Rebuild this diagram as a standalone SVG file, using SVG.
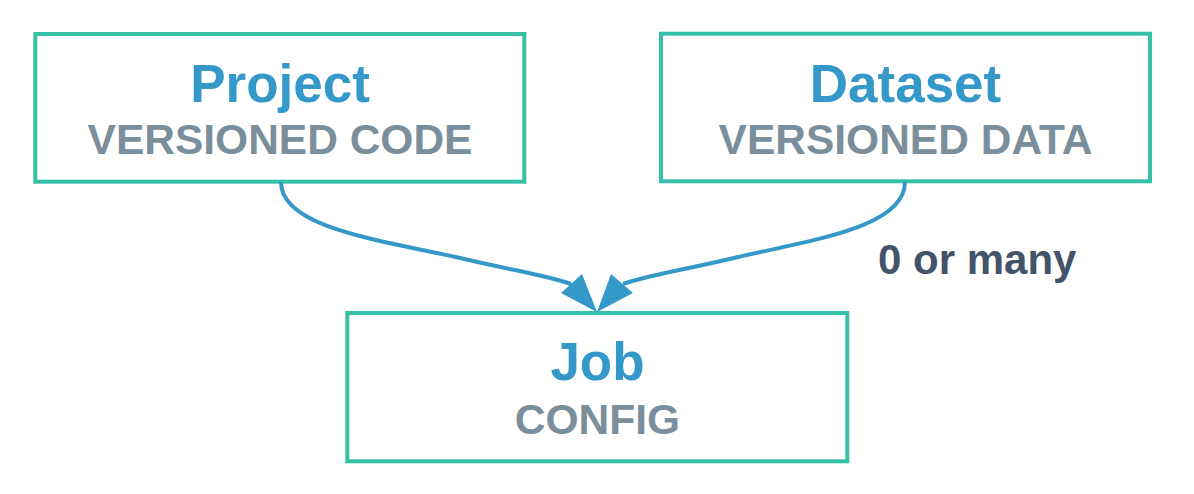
<svg xmlns="http://www.w3.org/2000/svg" width="1194" height="494" viewBox="0 0 1194 494">
<style>
.box{fill:#fff;stroke:#35c0a7;stroke-width:4}
.title{font-family:"Liberation Sans",Arial,sans-serif;font-weight:bold;font-size:53px;fill:#3498c9;text-anchor:middle}
.sub{font-family:"Liberation Sans",Arial,sans-serif;font-weight:bold;font-size:42.5px;fill:#7a8f9b;text-anchor:middle}
.edge{fill:none;stroke:#3498c9;stroke-width:4}
.head{fill:#3498c9;stroke:none}
.lbl{font-family:"Liberation Sans",Arial,sans-serif;font-weight:bold;font-size:42px;fill:#435369}
</style>
<rect width="1194" height="494" fill="#fff"/>
<g id="project">
<rect class="box" x="35.3" y="34" width="489" height="147.7"/>
<text class="title" x="280" y="102">Project</text>
<text class="sub" x="280" y="154">VERSIONED CODE</text>
</g>
<g id="dataset">
<rect class="box" x="661" y="33.7" width="489" height="147.6"/>
<text class="title" x="905.5" y="102">Dataset</text>
<text class="sub" x="905.5" y="154">VERSIONED DATA</text>
</g>
<g id="job">
<rect class="box" x="347.3" y="313" width="500" height="148.3"/>
<text class="title" x="597.5" y="380">Job</text>
<text class="sub" x="597.5" y="434">CONFIG</text>
</g>
<g id="connectors">
<path class="edge" d="M281,182 C281,228 380,240 460,258 C520,272 545,275 571,284"/>
<polygon class="head" points="597,312 561,293 582,274"/>
<path class="edge" d="M905,182 C905,228 810,240 734,258 C674,272 649,275 623,284"/>
<polygon class="head" points="597,312 611,274 633,293"/>
<text class="lbl" x="878" y="274">0 or many</text>
</g>
</svg>
